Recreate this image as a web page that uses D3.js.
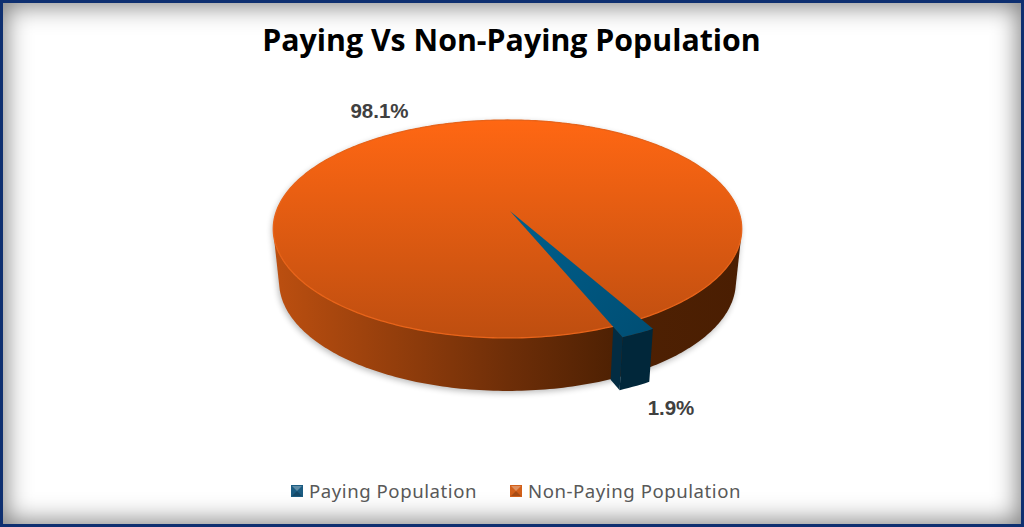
<!DOCTYPE html>
<html><head><meta charset="utf-8">
<script src="https://cdn.jsdelivr.net/npm/d3@7/dist/d3.min.js"></script>
<style>
html,body{margin:0;padding:0;background:#fff}
#frame{position:relative;width:1024px;height:527px;overflow:hidden}
svg{display:block;position:absolute;left:0;top:0}
#edge{position:absolute;left:0;top:0;width:1024px;height:527px;box-sizing:border-box;border:3px solid #0E2F70;box-shadow:inset 0 0 24px 3px rgba(0,0,0,.5);pointer-events:none}
</style></head>
<body><div id="frame"><svg id="c" width="1024" height="527"></svg><div id="edge"></div></div>
<script>
const title = "Paying Vs Non-Paying Population";
const categories = ["Paying Population", "Non-Paying Population"];
const values = [1.9, 98.1];
const topColors = [["#005F8C", "#004F75"], ["#FF6713", "#BE4E10"]];
const sideColors = [["#032C42", "#01273A"], ["#BC4F10", "#4A1E02"]];
const swatchColors = ["#1B5C82", "#D2601A"];

const svg = d3.select("#c");
const defs = svg.append("defs");
const rad = d => d * Math.PI / 180;
const pieStartDeg = 150.9;
const arcs = d3.pie().sort(null).startAngle(rad(pieStartDeg)).endAngle(rad(pieStartDeg + 360))(values);

// perspective projection of a unit disc
const cx = 507.5, cy = 211, R = 231, H = 106, t = 0.165, depth = 53, shrink = 0.975;
function project(a, r, level, ox = 0) {
  const u = r * Math.sin(a), v = -r * Math.cos(a), s = 1 / (1 - t * v);
  const x = R * u * s + ox, y = H * v * s;
  return [cx + x * (level ? shrink : 1), cy + y + (level ? depth : 0)];
}
const line = d3.line();
const sweep = (a0, a1, r, level, ox) => {
  const n = Math.max(2, Math.ceil(Math.abs(a1 - a0) / rad(1)));
  return d3.range(n + 1).map(i => project(a0 + (a1 - a0) * i / n, r, level, ox));
};

function gradient(id, x1, y1, x2, y2, stops) {
  const g = defs.append("linearGradient").attr("id", id).attr("gradientUnits", "userSpaceOnUse")
    .attr("x1", x1).attr("y1", y1).attr("x2", x2).attr("y2", y2);
  stops.forEach(([o, c]) => g.append("stop").attr("offset", o).attr("stop-color", c));
}
gradient("topOrange", 0, 120, 0, 338, [[0, topColors[1][0]], [1, topColors[1][1]]]);
gradient("sideOrange", 275, 0, 742, 0, [[0, sideColors[1][0]], [0.5, "#6E2E08"], [0.72, "#4F2103"], [1, sideColors[1][1]]]);
gradient("topBlue", 510, 211, 640, 335, [[0, topColors[0][0]], [1, topColors[0][1]]]);
const blur = defs.append("filter").attr("id", "shadow").attr("x", "-10%").attr("y", "-10%").attr("width", "120%").attr("height", "125%");
blur.append("feGaussianBlur").attr("stdDeviation", 3);
const glow = defs.append("filter").attr("id", "soft");
glow.append("feGaussianBlur").attr("stdDeviation", 0.7);

// full orange rim
const fullRim0 = sweep(0, 2 * Math.PI, 1, 0);
const fullRim1 = sweep(0, 2 * Math.PI, 1, 1);
const hull = d3.polygonHull(fullRim0.concat(fullRim1));

svg.append("path").attr("d", line(hull) + "Z").attr("transform", "translate(-1,2)")
  .attr("fill", "#000").attr("opacity", 0.28).attr("filter", "url(#shadow)");
svg.append("path").attr("d", line(hull) + "Z").attr("fill", "url(#sideOrange)");
svg.append("path").attr("d", line(fullRim0) + "Z").attr("fill", "url(#topOrange)");
svg.append("path").attr("d", line(fullRim0) + "Z").attr("fill", "none")
  .attr("stroke", "#E8641A").attr("stroke-width", 1.3).attr("filter", "url(#soft)");

// paying wedge, pulled slightly out of the disc
const wedge = arcs[0], wr = 1.075, ox = 2.5;
const rimTop = sweep(wedge.startAngle, wedge.endAngle, wr, 0, ox);
const rimBot = sweep(wedge.startAngle, wedge.endAngle, wr, 1, ox);
const centerTop = [cx + ox, cy];
const innerTop = project(wedge.endAngle, 1, 0, ox);
const innerBot = project(wedge.endAngle, 1, 1, ox);
const tip = rimTop[rimTop.length - 1], tipBot = rimBot[rimBot.length - 1];
const bodyPts = rimTop.concat(rimBot.slice().reverse());
svg.append("path").attr("d", line(bodyPts) + "Z").attr("fill", sideColors[0][1]);
svg.append("path").attr("d", line([innerTop, tip, tipBot, innerBot]) + "Z").attr("fill", sideColors[0][0]);
svg.append("path").attr("d", line([centerTop].concat(rimTop)) + "Z").attr("fill", "url(#topBlue)");

// data labels
const fmt = d => d3.format(".1f")(d) + "%";
const labelPos = [[671, 415], [379.5, 118]];
svg.selectAll("text.lab").data(values).join("text").attr("class", "lab")
  .attr("x", (d, i) => labelPos[i][0]).attr("y", (d, i) => labelPos[i][1])
  .attr("text-anchor", "middle").attr("font-family", "'Liberation Sans',Arial,sans-serif")
  .attr("font-weight", 700).attr("font-size", 20.5).attr("fill", "#404040").text(fmt);

// title
svg.append("text").attr("x", 511.5).attr("y", 51).attr("text-anchor", "middle")
  .attr("font-family", "'Open Sans',sans-serif").attr("font-weight", 700).attr("font-size", 30.3)
  .attr("fill", "#000").text(title);

// legend
const legendX = [291, 510];
const legend = svg.selectAll("g.leg").data(categories).join("g").attr("class", "leg")
  .attr("transform", (d, i) => `translate(${legendX[i]},485)`);
legend.append("rect").attr("width", 12).attr("height", 12).attr("fill", (d, i) => swatchColors[i]);
legend.append("path").attr("d", line([[1, 1], [11, 1], [6, 6]]) + "Z").attr("fill", "#fff").attr("opacity", 0.3);
legend.append("path").attr("d", line([[1, 11], [11, 11], [6, 6]]) + "Z").attr("fill", "#000").attr("opacity", 0.2);
legend.append("text").attr("x", 18).attr("y", 12.5).attr("font-family", "'Noto Sans',sans-serif")
  .attr("font-size", 18.6).attr("letter-spacing", 0.55).attr("fill", "#595959").text(d => d);
</script></body></html>
